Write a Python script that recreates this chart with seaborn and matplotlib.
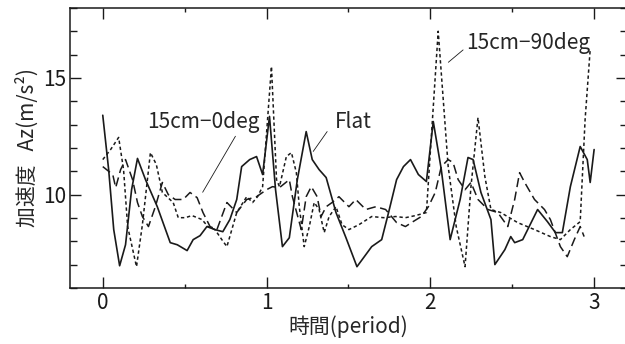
import matplotlib
matplotlib.use("Agg")
import matplotlib.pyplot as plt
import seaborn as sns
from matplotlib.ticker import MultipleLocator, FixedLocator

# --- data (time in periods, Az in m/s^2) ---
flat_t = [0.0, 0.036, 0.067, 0.103, 0.139, 0.176, 0.212, 0.261, 0.333, 0.412,
          0.455, 0.515, 0.552, 0.594, 0.636, 0.685, 0.733, 0.776, 0.818, 0.848,
          0.897, 0.939, 0.976, 1.018, 1.055, 1.097, 1.139, 1.188, 1.242, 1.279,
          1.321, 1.364, 1.424, 1.485, 1.552, 1.642, 1.703, 1.745, 1.794, 1.836,
          1.879, 1.927, 1.976, 2.018, 2.067, 2.121, 2.182, 2.230, 2.261, 2.309,
          2.370, 2.394, 2.455, 2.491, 2.515, 2.564, 2.655, 2.715, 2.764, 2.806,
          2.855, 2.915, 2.958, 2.976, 3.0]
flat_v = [13.4, 11.07, 8.5, 6.95, 7.85, 10.21, 11.55, 10.64, 9.48, 7.94,
          7.85, 7.6, 8.07, 8.24, 8.63, 8.5, 8.41, 8.93, 9.79, 11.2,
          11.5, 11.63, 10.86, 13.35, 10.21, 7.77, 8.15, 10.64, 12.7, 11.5,
          11.07, 10.73, 9.23, 8.15, 6.91, 7.77, 8.07, 9.23, 10.64, 11.2,
          11.5, 10.86, 10.56, 13.13, 11.07, 8.07, 9.79, 11.59, 11.5, 10.09,
          8.93, 7.0, 7.64, 8.2, 7.94, 8.07, 9.36, 8.84, 8.37, 8.37,
          10.34, 12.06, 11.5, 10.52, 11.93]

deg0_t = [0.0, 0.061, 0.079, 0.109, 0.139, 0.182, 0.212, 0.242, 0.279, 0.321,
          0.364, 0.4, 0.442, 0.491, 0.533, 0.576, 0.612, 0.655, 0.697, 0.758,
          0.818, 0.879, 0.939, 1.0, 1.036, 1.079, 1.139, 1.158, 1.212, 1.242,
          1.273, 1.309, 1.333, 1.364, 1.4, 1.442, 1.503, 1.545, 1.606, 1.667,
          1.727, 1.794, 1.848, 1.885, 1.945, 1.988, 2.03, 2.067, 2.109, 2.139,
          2.17, 2.212, 2.248, 2.291, 2.352, 2.412, 2.473, 2.515, 2.545, 2.576,
          2.636, 2.697, 2.733, 2.794, 2.836, 2.879, 2.915, 2.939]
deg0_v = [11.2, 10.86, 10.3, 11.07, 11.5, 10.64, 9.66, 9.06, 8.63, 9.48,
          10.52, 10.0, 9.79, 9.79, 10.09, 9.87, 9.23, 8.63, 8.5, 9.66,
          9.23, 9.79, 9.91, 10.21, 10.34, 10.3, 10.64, 9.91, 8.5, 9.91,
          10.34, 9.91, 9.06, 9.48, 9.66, 9.91, 9.48, 9.79, 9.36, 9.48,
          9.36, 8.8, 8.63, 8.8, 9.06, 9.48, 10.09, 11.2, 11.5, 11.37,
          10.64, 10.21, 10.52, 9.79, 9.36, 9.23, 8.63, 9.79, 10.94, 10.52,
          9.79, 9.36, 8.93, 7.77, 7.34, 8.07, 8.63, 8.2]

deg90_t = [0.0, 0.048, 0.097, 0.127, 0.152, 0.206, 0.242, 0.291, 0.327, 0.364,
           0.43, 0.461, 0.503, 0.545, 0.606, 0.642, 0.685, 0.727, 0.758, 0.818,
           0.879, 0.915, 0.945, 0.976, 1.03, 1.061, 1.079, 1.121, 1.152, 1.182,
           1.2, 1.23, 1.261, 1.291, 1.321, 1.352, 1.382, 1.424, 1.461, 1.503,
           1.564, 1.642, 1.715, 1.788, 1.848, 1.909, 1.976, 2.048, 2.109, 2.158,
           2.212, 2.248, 2.291, 2.333, 2.37, 2.43, 2.533, 2.636, 2.733, 2.794,
           2.855, 2.915, 2.945, 2.976]
deg90_v = [11.5, 11.93, 12.45, 11.07, 8.63, 6.91, 8.71, 11.8, 11.29, 10.09,
           9.66, 9.01, 9.01, 9.1, 8.93, 8.63, 8.5, 8.07, 7.77, 9.23,
           9.91, 9.66, 9.91, 10.34, 15.49, 10.64, 10.34, 11.63, 11.8, 10.94,
           9.48, 7.77, 8.63, 9.66, 9.36, 8.37, 9.06, 9.48, 8.71, 8.5,
           8.71, 9.06, 9.01, 9.06, 9.01, 9.1, 9.23, 17.0, 11.2, 8.63,
           6.91, 10.34, 13.3, 10.77, 9.36, 9.23, 8.8, 8.5, 8.2, 8.07,
           8.5, 8.84, 13.22, 16.22]

x_ticks = [0, 1, 2, 3]
y_ticks = [10, 15]

sns.set_theme(style="ticks")
plt.rcParams['font.family'] = ['Noto Sans CJK JP', 'DejaVu Sans']
plt.rcParams['font.size'] = 15

fig = plt.figure(figsize=(6.25, 3.44), dpi=100)
ax = fig.add_axes([0.112, 0.163, 0.891, 0.814])

sns.lineplot(x=flat_t, y=flat_v, ax=ax, color='k', lw=1.2, estimator=None)
sns.lineplot(x=deg0_t, y=deg0_v, ax=ax, color='k', lw=1.1, estimator=None,
             linestyle=(0, (6, 3)))
sns.lineplot(x=deg90_t, y=deg90_v, ax=ax, color='k', lw=1.1, estimator=None,
             linestyle=(0, (2.2, 1.8)))

ax.set_xlim(-0.2, 3.2)
ax.set_ylim(6, 18)
ax.xaxis.set_major_locator(FixedLocator(x_ticks))
ax.xaxis.set_minor_locator(MultipleLocator(0.5))
ax.yaxis.set_major_locator(FixedLocator(y_ticks))
ax.yaxis.set_minor_locator(MultipleLocator(1))
ax.tick_params(which='both', direction='in', top=True, right=True,
               colors='k', labelsize=15, width=1.0)
ax.tick_params(axis='x', which='major', length=8, pad=3)
ax.tick_params(axis='x', which='minor', length=3)
ax.tick_params(axis='y', which='major', length=8, pad=3)
ax.tick_params(axis='y', which='minor', length=5)
for s in ax.spines.values():
    s.set_color('k')
    s.set_linewidth(1.1)

ax.set_xlabel('時間(period)', fontsize=15, labelpad=1)
ax.set_ylabel('加速度   Az(m/s²)', fontsize=15, labelpad=3)

line = dict(arrowstyle='-', color='k', lw=0.6, shrinkA=0, shrinkB=0)
ax.annotate('15cm−0deg', xy=(0.61, 10.1), xytext=(0.27, 13.1),
            fontsize=15, va='center', ha='left')
ax.annotate('', xy=(0.61, 10.1), xytext=(0.81, 12.5), arrowprops=line)
ax.annotate('Flat', xy=(1.285, 11.85), xytext=(1.42, 13.1),
            fontsize=15, va='center', ha='left')
ax.annotate('', xy=(1.285, 11.85), xytext=(1.37, 12.7), arrowprops=line)
ax.annotate('15cm−90deg', xy=(2.11, 15.67), xytext=(2.22, 16.5),
            fontsize=15, va='center', ha='left')
ax.annotate('', xy=(2.11, 15.67), xytext=(2.2, 16.2), arrowprops=line)

fig.savefig('out.png', dpi=100)
